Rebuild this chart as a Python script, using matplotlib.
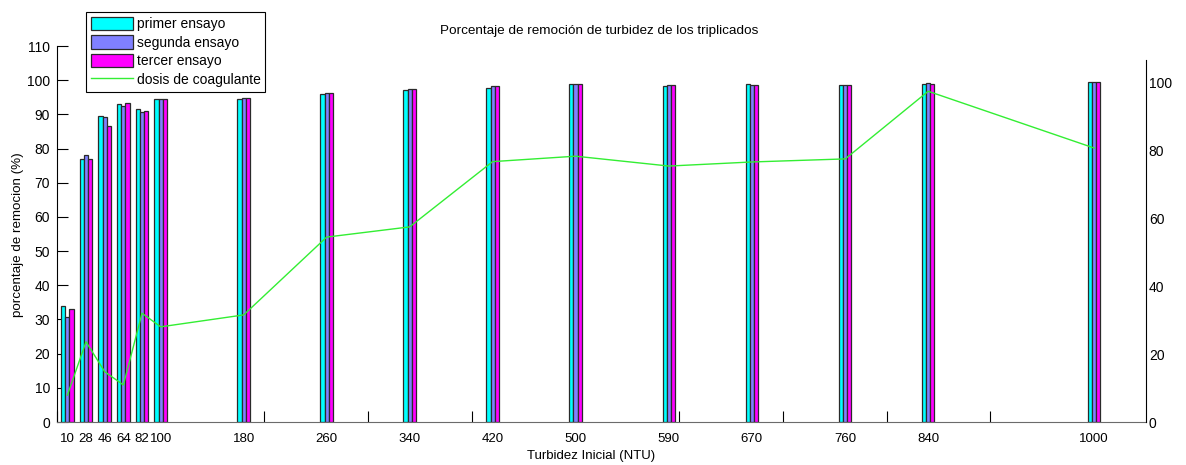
import numpy as np
import matplotlib
matplotlib.use("Agg")
import matplotlib.pyplot as plt
from matplotlib.patches import Patch
from matplotlib.lines import Line2D

plt.rcParams['font.family'] = ['Liberation Sans', 'DejaVu Sans']

# Initial turbidity of each sample (NTU)
turbidez = [10, 28, 46, 64, 82, 100, 180, 260, 340, 420, 500, 590, 670, 760, 840, 1000]
tick_labels = [str(t) for t in turbidez]

# Removal percentage per trial (%)
primer_ensayo = [33.9, 76.9, 89.6, 92.9, 91.5, 94.5, 94.4, 96.0, 97.1, 97.7, 98.9, 98.2, 99.0, 98.7, 99.0, 99.6]
segunda_ensayo = [30.8, 78.1, 89.1, 92.5, 90.8, 94.5, 94.7, 96.3, 97.4, 98.4, 98.9, 98.5, 98.7, 98.7, 99.3, 99.6]
tercer_ensayo = [33.0, 76.9, 86.6, 93.2, 91.1, 94.5, 94.7, 96.3, 97.4, 98.4, 98.9, 98.5, 98.7, 98.7, 99.0, 99.6]

# Coagulant dose (right axis)
dosis = [7.9, 23.6, 14.8, 10.9, 32.0, 28.0, 31.5, 54.4, 57.4, 76.6, 78.2, 75.3, 76.5, 77.4, 97.3, 80.6]

series = [primer_ensayo, segunda_ensayo, tercer_ensayo]
names = ["primer ensayo", "segunda ensayo", "tercer ensayo"]
colors = ["#00FFFF", "#8080FF", "#FF00FF"]
offsets = [-4.0, 0.0, 4.0]
bar_w = 4.0

W, H = 1186, 465
fig = plt.figure(figsize=(W / 100, H / 100), dpi=100)

left, bottom, right = 57, 43, 1146
ax = fig.add_axes([left / W, bottom / H, (right - left) / W, 376 / H])
ax2 = fig.add_axes([left / W, bottom / H, (right - left) / W, 362 / H], facecolor="none")

x = np.array(turbidez, dtype=float)
for vals, col, off in zip(series, colors, offsets):
    ax.bar(x + off, vals, width=bar_w, color=col, edgecolor="#2a2a2a", linewidth=0.9, zorder=2)

ax.set_xlim(0, 1050)
ax.set_ylim(0, 110)
ax.set_yticks(np.arange(0, 111, 10))
ax.set_xticks(turbidez)
ax.set_xticklabels(tick_labels)
ax.set_xticks(np.arange(0, 1001, 100), minor=True)
ax.xaxis.remove_overlapping_locs = False
ax.set_axisbelow(True)
ax.tick_params(axis="x", which="major", length=0, pad=8, labelsize=9.5)
ax.tick_params(axis="x", which="minor", direction="in", length=8, width=0.8, color="black")
ax.tick_params(axis="y", direction="in", length=8, width=0.8, pad=5, labelsize=10)
for s in ("top", "right"):
    ax.spines[s].set_visible(False)
ax.spines["bottom"].set_color("#6b6b6b")
ax.spines["left"].set_color("black")

# Dose line on its own right-hand axis
ax2.plot(x, dosis, color="#33ee33", linewidth=1.0)
ax2.set_xlim(0, 1050)
ax2.set_ylim(0, 106.5)
ax2.yaxis.tick_right()
ax2.set_yticks(np.arange(0, 101, 20))
ax2.tick_params(axis="y", length=0, pad=2, labelsize=10)
ax2.set_xticks([])
for s in ("top", "left", "bottom"):
    ax2.spines[s].set_visible(False)
ax2.spines["right"].set_color("black")

fig.text(0.5055, 1 - 31 / H, "Porcentaje de remoción de turbidez de los triplicados",
         ha="center", va="center", fontsize=9.7)
fig.text(591 / W, 1 - 456 / H, "Turbidez Inicial (NTU)", ha="center", va="center", fontsize=9.5)
fig.text(18 / W, 1 - 235 / H, "porcentaje de remocion (%)", ha="center", va="center",
         rotation=90, fontsize=9.6)

handles = [Patch(facecolor=c, edgecolor="#2a2a2a", linewidth=0.9) for c in colors]
handles.append(Line2D([], [], color="#33ee33", linewidth=1.0))
labels = names + ["dosis de coagulante"]
leg = ax2.legend(handles, labels, loc="upper left", bbox_to_anchor=(86 / W, 1 - 12 / H),
                 bbox_transform=fig.transFigure, borderaxespad=0, fancybox=False,
                 edgecolor="black", framealpha=1, fontsize=10, handlelength=3.0,
                 handleheight=1.1, handletextpad=0.3, labelspacing=0.3, borderpad=0.35)
leg.get_frame().set_linewidth(0.8)

fig.savefig("out.png", dpi=100)
